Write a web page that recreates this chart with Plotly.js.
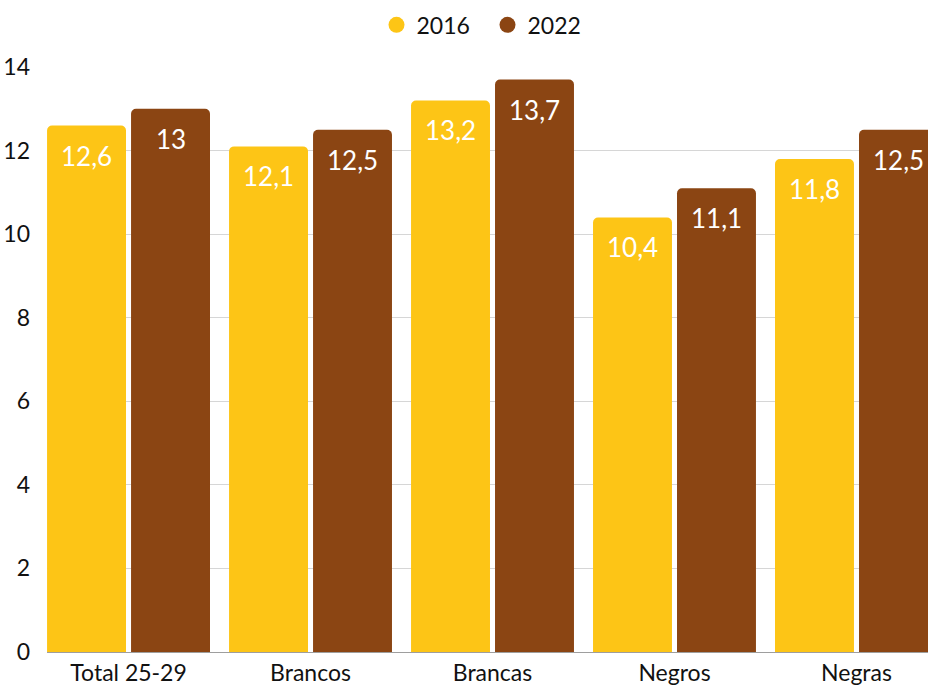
<!DOCTYPE html>
<html>
<head>
<meta charset="utf-8">
<script src="https://cdn.plot.ly/plotly-3.0.1.min.js"></script>
<style>html,body{margin:0;padding:0;background:#fff;}#chart{width:928px;height:686px;}</style>
</head>
<body>
<div id="chart"></div>
<script>
const categories = ["Total 25-29", "Brancos", "Brancas", "Negros", "Negras"];
const values2016 = [12.6, 12.1, 13.2, 10.4, 11.8];
const values2022 = [13, 12.5, 13.7, 11.1, 12.5];
const labels2016 = ["12,6", "12,1", "13,2", "10,4", "11,8"];
const labels2022 = ["13", "12,5", "13,7", "11,1", "12,5"];
const seriesNames = ["2016", "2022"];
const colors = ["#FDC516", "#8B4513"];

const tickFont = {family: "Lato, 'Liberation Sans Narrow', sans-serif", size: 23, color: "#111"};
const labelFont = {family: "Lato, sans-serif", size: 26, color: "#fff"};

const traces = [
  {type: "bar", x: categories, y: values2016, name: seriesNames[0], marker: {color: colors[0], cornerradius: 5, line: {width: 0}}, showlegend: false, hoverinfo: "skip"},
  {type: "bar", x: categories, y: values2022, name: seriesNames[1], marker: {color: colors[1], cornerradius: 5, line: {width: 0}}, showlegend: false, hoverinfo: "skip"},
  {type: "scatter", mode: "markers", x: [null], y: [null], name: seriesNames[0], marker: {color: colors[0], size: 22, symbol: "circle"}, showlegend: true},
  {type: "scatter", mode: "markers", x: [null], y: [null], name: seriesNames[1], marker: {color: colors[1], size: 22, symbol: "circle"}, showlegend: true}
];

const annotations = [];
categories.forEach((c, i) => {
  annotations.push({x: c, y: values2016[i], xref: "x", yref: "y", text: labels2016[i], showarrow: false, xshift: -42, yshift: -30, yanchor: "middle", font: labelFont});
  annotations.push({x: c, y: values2022[i], xref: "x", yref: "y", text: labels2022[i], showarrow: false, xshift: 42, yshift: -30, yanchor: "middle", font: labelFont});
});

const layout = {
  width: 928, height: 686,
  margin: {l: 47, r: 0, t: 67, b: 34, pad: 0},
  paper_bgcolor: "#fff", plot_bgcolor: "#fff",
  barmode: "group", bargap: 0.077, bargroupgap: 0.06,
  xaxis: {type: "category", range: [-0.448, 4.393], showgrid: false, zeroline: false, showline: true, linecolor: "#9e9e9e", linewidth: 1, ticks: "", tickfont: tickFont, fixedrange: true},
  yaxis: {range: [0, 14], dtick: 2, showgrid: true, gridcolor: "#d6d6d6", gridwidth: 1, zeroline: false, showline: false, ticks: "", tickfont: tickFont, ticklabelstandoff: 16, fixedrange: true},
  legend: {orientation: "h", x: 0.5, xanchor: "center", y: 1.072, yanchor: "middle", font: tickFont, itemsizing: "trace", itemwidth: 30, entrywidth: 66, traceorder: "normal"},
  annotations: annotations,
  showlegend: true
};

Plotly.newPlot("chart", traces, layout, {displayModeBar: false, staticPlot: true});
</script>
</body>
</html>
